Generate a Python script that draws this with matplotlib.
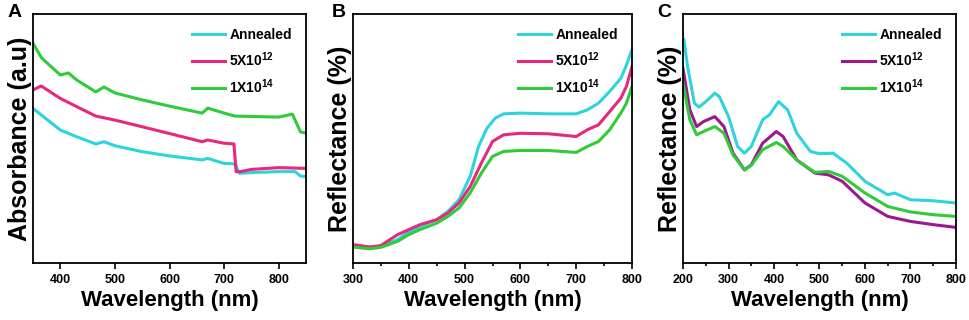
import matplotlib.pyplot as plt
import numpy as np

plt.rcParams['font.family'] = ['Liberation Sans', 'DejaVu Sans']
plt.rcParams['font.weight'] = 'bold'
plt.rcParams['mathtext.fontset'] = 'custom'
plt.rcParams['mathtext.rm'] = 'Liberation Sans:bold'
plt.rcParams['mathtext.bf'] = 'Liberation Sans:bold'
plt.rcParams['mathtext.default'] = 'bf'

labels = ['Annealed', '5X10$^{12}$', '1X10$^{14}$']

# Panel A - absorbance (arbitrary units)
wl_a_green = [350, 366, 400, 415, 430, 465, 480, 500, 550, 600, 660, 670, 700, 720, 800, 825, 840, 850]
abs_green = [88.2, 82.3, 75.5, 76.3, 73.5, 68.7, 70.7, 68.3, 65.5, 63.0, 60.2, 62.2, 60.2, 59.0, 58.6, 59.8, 52.6, 52.2]
wl_a_pink = [350, 365, 400, 430, 465, 500, 550, 600, 660, 670, 700, 718, 722, 730, 750, 800, 850]
abs_pink = [69.5, 71.1, 66.1, 62.8, 59.0, 57.4, 54.7, 52.0, 48.7, 49.4, 48.1, 47.8, 36.7, 36.7, 37.6, 38.3, 38.0]
wl_a_cyan = [350, 400, 430, 465, 480, 500, 550, 600, 660, 670, 700, 720, 728, 750, 800, 830, 840, 850]
abs_cyan = [62.1, 53.4, 50.7, 47.8, 48.7, 47.1, 44.7, 43.0, 41.4, 42.0, 40.0, 39.8, 36.0, 36.3, 36.7, 36.7, 34.9, 34.7]

# Panel B - reflectance
wl_b = [300, 330, 350, 380, 400, 420, 450, 470, 490, 510, 525, 540, 555, 570, 600, 650, 700, 720, 740, 760, 780, 790, 800]
ref_b_cyan = [7.1, 6.4, 6.7, 9.4, 12.4, 14.7, 17.4, 20.7, 25.4, 34.8, 46.8, 54.1, 58.2, 59.9, 60.2, 59.9, 59.9, 61.5, 64.2, 68.9, 74.2, 79.5, 85.6]
wl_b2 = [300, 330, 350, 380, 400, 420, 450, 470, 490, 510, 530, 550, 570, 600, 650, 700, 720, 740, 760, 780, 790, 800]
ref_b_pink = [7.4, 6.4, 7.0, 11.4, 13.4, 15.4, 17.4, 20.1, 24.1, 30.7, 40.1, 48.8, 51.5, 52.1, 51.9, 50.8, 53.5, 55.5, 60.8, 66.2, 70.9, 78.9]
ref_b_green = [6.4, 5.7, 6.3, 8.7, 11.4, 13.4, 16.0, 18.7, 22.1, 28.1, 36.1, 42.8, 44.8, 45.2, 45.2, 44.4, 46.8, 48.8, 53.5, 60.2, 64.2, 70.9]

# Panel C - reflectance
wl_c_cyan = [202, 210, 225, 235, 250, 270, 280, 300, 320, 335, 350, 375, 390, 410, 430, 450, 480, 500, 530, 560, 600, 650, 665, 700, 750, 800]
ref_c_cyan = [89.8, 78.9, 64.2, 62.6, 64.8, 68.2, 66.8, 58.8, 46.8, 44.1, 46.8, 57.5, 59.5, 64.8, 61.5, 52.1, 44.8, 43.9, 44.1, 40.1, 32.8, 27.4, 28.1, 25.4, 25.0, 24.1]
wl_c = [200, 215, 230, 245, 270, 290, 310, 335, 350, 375, 405, 420, 450, 490, 520, 550, 600, 650, 700, 750, 800]
ref_c_purple = [78.2, 61.5, 54.8, 56.8, 58.8, 54.8, 44.1, 37.4, 39.4, 48.1, 52.8, 50.8, 41.4, 36.1, 35.4, 32.8, 24.1, 18.7, 16.7, 15.4, 14.3]
ref_c_green = [72.2, 57.5, 51.5, 52.8, 54.8, 52.1, 43.4, 37.4, 39.2, 45.5, 48.4, 46.8, 41.4, 36.4, 36.8, 34.8, 28.1, 22.7, 20.5, 19.4, 18.7]

cyan = '#2ED3DD'
pink = '#E8287C'
green = '#2FCB3A'
purple = '#9A1A8C'

W, H = 969, 320
fig = plt.figure(figsize=(W / 100, H / 100), dpi=100)
boxes = [(33, 306), (353, 632), (683, 956)]
axes = [fig.add_axes([l / W, 1 - 263 / H, (r - l) / W, (263 - 14) / H]) for l, r in boxes]
axA, axB, axC = axes

lw = 2.2
axA.plot(wl_a_cyan, abs_cyan, color=cyan, lw=lw, label=labels[0])
axA.plot(wl_a_pink, abs_pink, color=pink, lw=lw, label=labels[1])
axA.plot(wl_a_green, abs_green, color=green, lw=lw, label=labels[2])
axA.set_xlim(350, 850)
axA.set_xticks([400, 500, 600, 700, 800])
axA.set_ylabel('Absorbance (a.u)', fontsize=18, fontweight='bold', labelpad=1)

axB.plot(wl_b, ref_b_cyan, color=cyan, lw=lw, label=labels[0])
axB.plot(wl_b2, ref_b_pink, color=pink, lw=lw, label=labels[1])
axB.plot(wl_b2, ref_b_green, color=green, lw=lw, label=labels[2])
axB.set_xlim(300, 800)
axB.set_xticks([300, 400, 500, 600, 700, 800])
axB.set_ylabel('Reflectance (%)', fontsize=18, fontweight='bold', labelpad=1)

axC.plot(wl_c_cyan, ref_c_cyan, color=cyan, lw=lw, label=labels[0])
axC.plot(wl_c, ref_c_purple, color=purple, lw=lw, label=labels[1])
axC.plot(wl_c, ref_c_green, color=green, lw=lw, label=labels[2])
axC.set_xlim(200, 800)
axC.set_xticks([200, 300, 400, 500, 600, 700, 800])
axC.set_ylabel('Reflectance (%)', fontsize=18, fontweight='bold', labelpad=1)

for ax, letter, lx in zip(axes, ['A', 'B', 'C'], [8, 332, 657]):
    ax.set_ylim(0, 100)
    ax.set_yticks([])
    ax.set_xticks(np.arange(ax.get_xlim()[0] + 50, ax.get_xlim()[1], 100), minor=True)
    ax.tick_params(axis='x', which='major', direction='out', length=4, width=1.2, labelsize=9, pad=4)
    ax.tick_params(axis='x', which='minor', direction='out', length=2.5, width=1.2)
    for lab in ax.get_xticklabels():
        lab.set_fontweight('bold')
    for s in ax.spines.values():
        s.set_linewidth(1.3)
    ax.set_xlabel('Wavelength (nm)', fontsize=16, fontweight='bold', labelpad=3)
    ax.legend(loc='upper right', frameon=False, handlelength=2.4,
              handletextpad=0.3, labelspacing=0.6, borderaxespad=0.6,
              prop={'weight': 'bold', 'size': 10})
    fig.text(lx / W, 1 - 4 / H, letter, fontsize=14, fontweight='bold', va='top', ha='left')

fig.savefig('out.png', dpi=100)
